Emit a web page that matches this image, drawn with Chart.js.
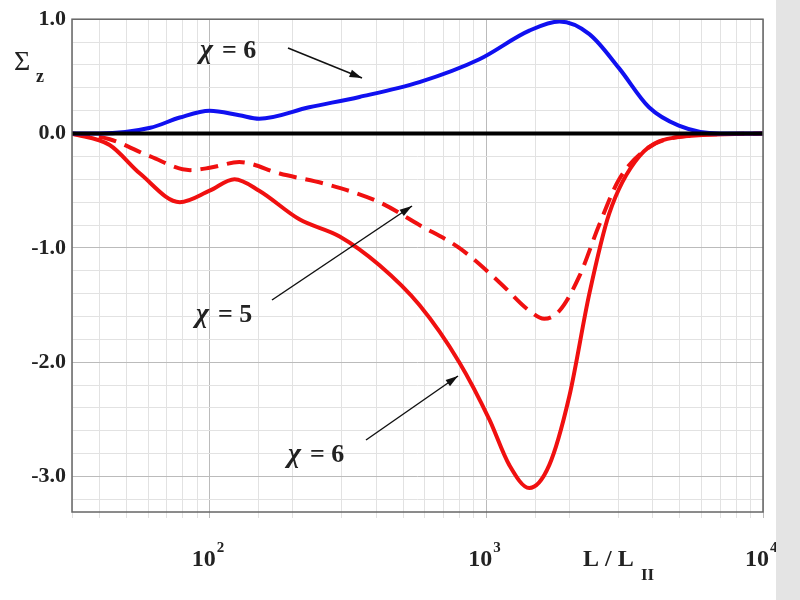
<!DOCTYPE html>
<html lang="en">
<head>
  <meta charset="UTF-8" />
  <title>Sigma_z vs L / L_II</title>
  <script src="https://cdn.jsdelivr.net/npm/chart.js"></script>
  <style>
    body { margin: 0; background: #ffffff; }
    .wrap { position: relative; width: 800px; height: 600px; }
    .strip { position: absolute; left: 776px; top: 0; width: 24px; height: 600px; background: #e4e4e4; }
  </style>
</head>
<body>
  <div class="wrap">
    <div class="strip"></div>
    <canvas id="sigmaChart" width="800" height="600"></canvas>
  </div>

  <script>
    // values
    const blueX  = [31.8, 40, 61, 78, 100, 128, 151, 229, 348, 573, 944, 1430, 1838, 2357, 3021, 3872, 4964, 6966, 10000];
    const blueY  = [0, 0, 0.05, 0.14, 0.2, 0.16, 0.13, 0.23, 0.32, 0.45, 0.65, 0.9, 0.98, 0.87, 0.57, 0.23, 0.07, 0, 0];

    const solidX = [31.8, 43.5, 56, 78, 100, 123, 151, 211, 295, 410, 573, 798, 1025, 1211, 1430, 1688, 1994, 2357, 2780, 3568, 4964, 10000];
    const solidY = [0, -0.1, -0.35, -0.6, -0.5, -0.4, -0.5, -0.75, -0.9, -1.15, -1.5, -2.0, -2.5, -2.9, -3.1, -2.9, -2.3, -1.4, -0.7, -0.2, -0.03, 0];

    const dashX  = [31.8, 43.5, 61, 85, 100, 128, 179, 271, 410, 573, 798, 1114, 1430, 1619, 1838, 2167, 2557, 3021, 3875, 5408, 10000];
    const dashY  = [0, -0.05, -0.2, -0.32, -0.3, -0.25, -0.35, -0.45, -0.6, -0.8, -1.0, -1.3, -1.55, -1.62, -1.55, -1.25, -0.8, -0.4, -0.12, -0.02, 0];

    const yMajor = [1, 0, -1, -2, -3];
    const xMajor = [100, 1000, 10000];

    const pts = (xs, ys) => xs.map((x, i) => ({ x: x, y: ys[i] }));
    const serif = '"Liberation Serif", "DejaVu Serif", serif';

    const overlay = {
      id: 'overlay',
      afterDraw(chart) {
        const c = chart.ctx, xs = chart.scales.x, a = chart.chartArea;
        c.save();
        c.strokeStyle = '#666'; c.lineWidth = 1.5;
        c.strokeRect(a.left, a.top, a.right - a.left, a.bottom - a.top);

        // x labels 10^n
        c.fillStyle = '#222';
        xMajor.forEach((v, i) => {
          const px = xs.getPixelForValue(v);
          c.font = 'bold 24px ' + serif; c.textAlign = 'center'; c.textBaseline = 'alphabetic';
          c.fillText('10', px - 6, 566);
          c.font = 'bold 15px ' + serif; c.textAlign = 'left';
          c.fillText(String(i + 2), px + 7, 552);
        });
        c.font = 'bold 24px ' + serif; c.textAlign = 'left';
        c.fillText('L / L', 583, 566);
        c.font = 'bold 17px ' + serif;
        c.fillText('II', 641, 580);

        // y axis title
        c.font = '28px ' + serif; c.fillText('Σ', 14, 70);
        c.font = 'bold 18px ' + serif; c.fillText('z', 36, 82);

        // annotations with arrows
        const arrow = (x1, y1, x2, y2) => {
          c.strokeStyle = '#111'; c.lineWidth = 1.5;
          c.beginPath(); c.moveTo(x1, y1); c.lineTo(x2, y2); c.stroke();
          const ang = Math.atan2(y2 - y1, x2 - x1);
          c.fillStyle = '#111'; c.beginPath();
          c.moveTo(x2, y2);
          c.lineTo(x2 - 13 * Math.cos(ang - 0.3), y2 - 13 * Math.sin(ang - 0.3));
          c.lineTo(x2 - 13 * Math.cos(ang + 0.3), y2 - 13 * Math.sin(ang + 0.3));
          c.closePath(); c.fill();
        };
        const label = (txt, x, y) => {
          c.fillStyle = '#222'; c.textAlign = 'left';
          c.font = 'italic bold 28px ' + serif; c.fillText('χ', x, y);
          c.font = 'bold 26px ' + serif; c.fillText(txt, x + 22, y);
        };
        label('= 6', 200, 58);
        arrow(288, 48, 362, 78);
        label('= 5', 196, 322);
        arrow(272, 300, 412, 206);
        label('= 6', 288, 462);
        arrow(366, 440, 458, 376);
        c.restore();
      }
    };

    new Chart(document.getElementById('sigmaChart'), {
      type: 'line',
      data: {
        datasets: [
          { data: [{ x: 31.8, y: 0 }, { x: 10000, y: 0 }], borderColor: '#000', borderWidth: 4, pointRadius: 0 },
          { data: pts(blueX, blueY), borderColor: '#1010f0', borderWidth: 4, pointRadius: 0, cubicInterpolationMode: 'monotone' },
          { data: pts(dashX, dashY), borderColor: '#f01010', borderWidth: 4, borderDash: [18, 9], pointRadius: 0, cubicInterpolationMode: 'monotone' },
          { data: pts(solidX, solidY), borderColor: '#f01010', borderWidth: 4, pointRadius: 0, cubicInterpolationMode: 'monotone' }
        ]
      },
      options: {
        responsive: false,
        animation: false,
        layout: { padding: { left: 0, right: 37, top: -16, bottom: 0 } },
        plugins: { legend: { display: false }, tooltip: { enabled: false } },
        scales: {
          x: {
            type: 'logarithmic', min: 31.8, max: 10000,
            afterFit: s => { s.height = 88; },
            ticks: { display: false },
            grid: {
              color: ctx => xMajor.includes(ctx.tick.value) ? '#bbb' : '#e2e2e2',
              tickLength: 6
            },
            border: { display: false }
          },
          y: {
            min: -3.31, max: 1.0,
            afterFit: s => { s.width = 72; },
            afterBuildTicks: s => {
              const t = [];
              for (let i = -16; i <= 5; i++) t.push({ value: i / 5 });
              s.ticks = t;
            },
            ticks: {
              autoSkip: false,
              color: '#222',
              font: { family: serif, size: 22, weight: 'bold' },
              callback: v => yMajor.includes(v) ? v.toFixed(1) : '',
              padding: 6
            },
            grid: {
              color: ctx => yMajor.includes(ctx.tick.value) ? '#bbb' : '#e2e2e2',
              tickLength: 0
            },
            border: { display: false }
          }
        }
      },
      plugins: [overlay]
    });
  </script>
</body>
</html>
